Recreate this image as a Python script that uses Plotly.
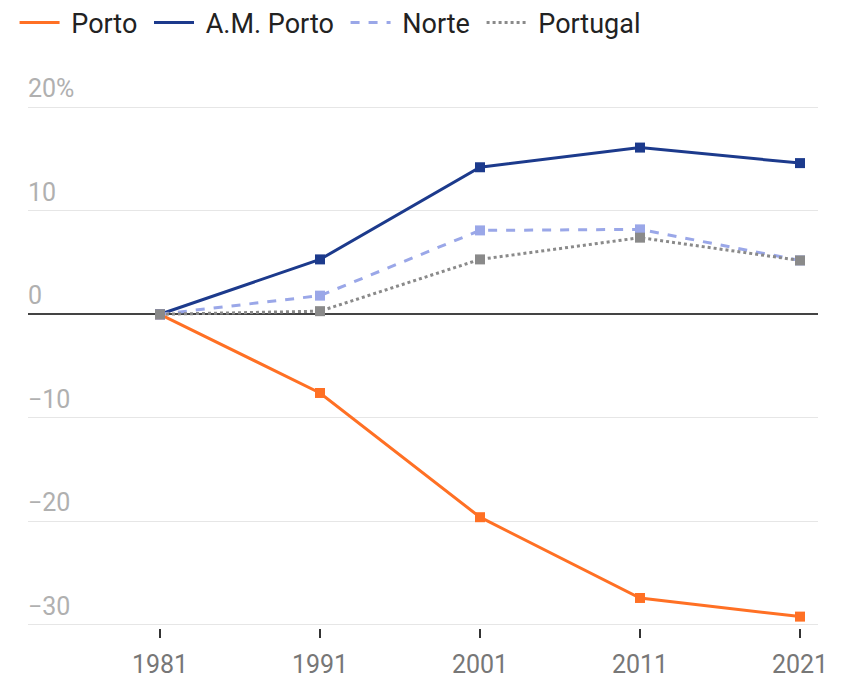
import plotly.graph_objects as go

years = [1981, 1991, 2001, 2011, 2021]
porto = [0, -7.6, -19.6, -27.4, -29.2]
am_porto = [0, 5.3, 14.2, 16.1, 14.6]
norte = [0, 1.8, 8.1, 8.2, 5.2]
portugal = [0, 0.3, 5.3, 7.4, 5.2]

y_tickvals = [20, 10, 0, -10, -20, -30]
y_ticktext = ["20%", "10", "0", "\u221210", "\u221220", "\u221230"]
x_ticktext = ["1981", "1991", "2001", "2011", "2021"]

series = [
    ("Porto", porto, "#ff7024", "solid"),
    ("A.M. Porto", am_porto, "#1c3a8c", "solid"),
    ("Norte", norte, "#9aa7e8", "dash"),
    ("Portugal", portugal, "#8a8a8a", "dot"),
]

fig = go.Figure()
for name, vals, color, dash in series:
    fig.add_trace(go.Scatter(
        x=years, y=vals, name="\u00a0" + name + "\u00a0", mode="lines", legendgroup=name,
        line=dict(color=color, width=3, dash=dash),
    ))
    fig.add_trace(go.Scatter(
        x=years, y=vals, name=name, mode="markers", legendgroup=name,
        showlegend=False,
        marker=dict(symbol="square", size=10, color=color),
    ))

# y-axis labels placed above their gridlines, as in the reference
for val, txt in zip(y_tickvals, y_ticktext):
    fig.add_annotation(
        xref="paper", yref="y", x=0, y=val, text=txt, showarrow=False,
        xanchor="left", yanchor="bottom", yshift=2, xshift=-2,
        font=dict(size=25, color="#b0b0b0", family="Roboto"),
    )

fig.update_layout(
    width=836, height=672,
    margin=dict(l=20, r=26, t=63.8, b=52.4, autoexpand=False),
    paper_bgcolor="white", plot_bgcolor="white",
    font=dict(family="Roboto", color="#222"),
    showlegend=True,
    legend=dict(orientation="h", x=-0.017, xanchor="left", y=1.088, yanchor="middle",
                font=dict(size=27, color="#222"), itemwidth=40,
                traceorder="normal"),
    xaxis=dict(
        range=[1972.75, 2022.125], tickvals=years, ticktext=x_ticktext,
        showgrid=False, zeroline=False, showline=False,
        ticks="outside", ticklen=9, tickwidth=2, tickcolor="#333",
        ticklabelstandoff=5,
        tickfont=dict(size=25, color="#777"),
    ),
    yaxis=dict(
        range=[-30.3, 23.4], tickvals=y_tickvals,
        showgrid=True, gridcolor="#e6e6e6", gridwidth=1,
        zeroline=True, zerolinecolor="#444", zerolinewidth=2,
        showticklabels=False, ticks="",
        showline=False,
    ),
)

fig.write_html("out.html")
